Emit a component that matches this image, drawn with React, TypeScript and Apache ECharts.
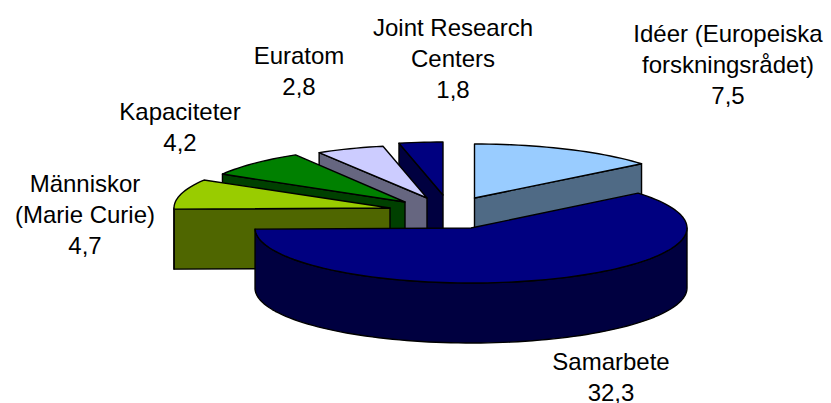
import React, { useEffect, useRef } from "react";
import * as echarts from "echarts";

// Data
const categories = ["Idéer (Europeiska\nforskningsrådet)", "Samarbete", "Människor\n(Marie Curie)", "Kapaciteter", "Euratom", "Joint Research\nCenters"];
const values = [7.5, 32.3, 4.7, 4.2, 2.8, 1.8];
const valueLabels = ["7,5", "32,3", "4,7", "4,2", "2,8", "1,8"];

// Styling and layout
const topColors = ["#99CCFF", "#000080", "#99CC00", "#008000", "#CCCCFF", "#000080"];
const sideColors = ["#4F6A85", "#000040", "#4F6600", "#004000", "#666680", "#000040"];
const explodeX = [3.5, 0, -81, -66, -44, -28];
const explodeY = [-30, 0, -20, -26, -30, -33];
const radiusX = [216, 216, 216, 212, 209, 209];
const radiusY = [54, 55, 55, 55, 53, 53];
const labelX = [728, 611, 85, 180, 299, 453];
const labelY = [64, 377, 214, 127, 71, 58];
const paintOrder = [5, 4, 3, 2, 0, 1];
const CX = 471, CY = 228, DEPTH = 60;
const FONT = "Liberation Sans, Arial, sans-serif";

const total = values.reduce((a, b) => a + b, 0);
const starts: number[] = [];
values.reduce((acc, v, i) => { starts[i] = acc; return acc + v; }, 0);

function pt(deg: number, idx: number, dz = 0): number[] {
  const a = (deg * Math.PI) / 180;
  return [CX + explodeX[idx] + radiusX[idx] * Math.sin(a), CY + explodeY[idx] - radiusY[idx] * Math.cos(a) + dz];
}
function arc(from: number, to: number, idx: number, dz = 0): number[][] {
  const n = Math.max(2, Math.ceil((to - from) / 2));
  const out: number[][] = [];
  for (let i = 0; i <= n; i++) out.push(pt(from + ((to - from) * i) / n, idx, dz));
  return out;
}

export default function App() {
  const ref = useRef<HTMLDivElement>(null);
  useEffect(() => {
    document.body.style.margin = "0";
    const chart = echarts.init(ref.current!, undefined, { renderer: "svg" });
    const renderItem = (_p: any, api: any) => {
      const idx = api.value(0);
      const start = (api.value(1) / total) * 360;
      const end = ((api.value(1) + api.value(2)) / total) * 360;
      const apex = [CX + explodeX[idx], CY + explodeY[idx]];
      const edgeStyle = { stroke: "#000", lineWidth: 1.4, lineJoin: "round" };
      const poly = (points: number[][], fill: string) => ({
        type: "polygon", shape: { points }, style: { fill, ...edgeStyle },
      });
      const children: any[] = [];
      const down = (p: number[]) => [p[0], p[1] + DEPTH];
      if (start > 180 && start < 360) {
        const e = pt(start, idx);
        children.push(poly([e, apex, down(apex), down(e)], sideColors[idx]));
      }
      if (end > 0 && end < 180) {
        const e = pt(end, idx);
        children.push(poly([apex, e, down(e), down(apex)], sideColors[idx]));
      }
      const a = Math.max(start, 90), b = Math.min(end, 270);
      if (b > a) {
        children.push(poly([...arc(a, b, idx), ...arc(a, b, idx, DEPTH).reverse()], sideColors[idx]));
      }
      children.push(poly([apex, ...arc(start, end, idx)], topColors[idx]));
      return { type: "group", children };
    };
    chart.setOption({
      animation: false,
      backgroundColor: "#fff",
      series: [{
        type: "custom",
        coordinateSystem: "none",
        renderItem,
        silent: true,
        data: paintOrder.map((i) => [i, starts[i], values[i]]),
      }],
      graphic: categories.map((c, i) => ({
        type: "text",
        x: labelX[i],
        y: labelY[i],
        z: 10,
        style: {
          text: c + "\n" + valueLabels[i],
          fill: "#000",
          font: `24px ${FONT}`,
          lineHeight: 31,
          align: "center",
          verticalAlign: "middle",
        },
      })),
    });
    return () => chart.dispose();
  }, []);
  return <div ref={ref} style={{ width: 831, height: 403 }} />;
}
